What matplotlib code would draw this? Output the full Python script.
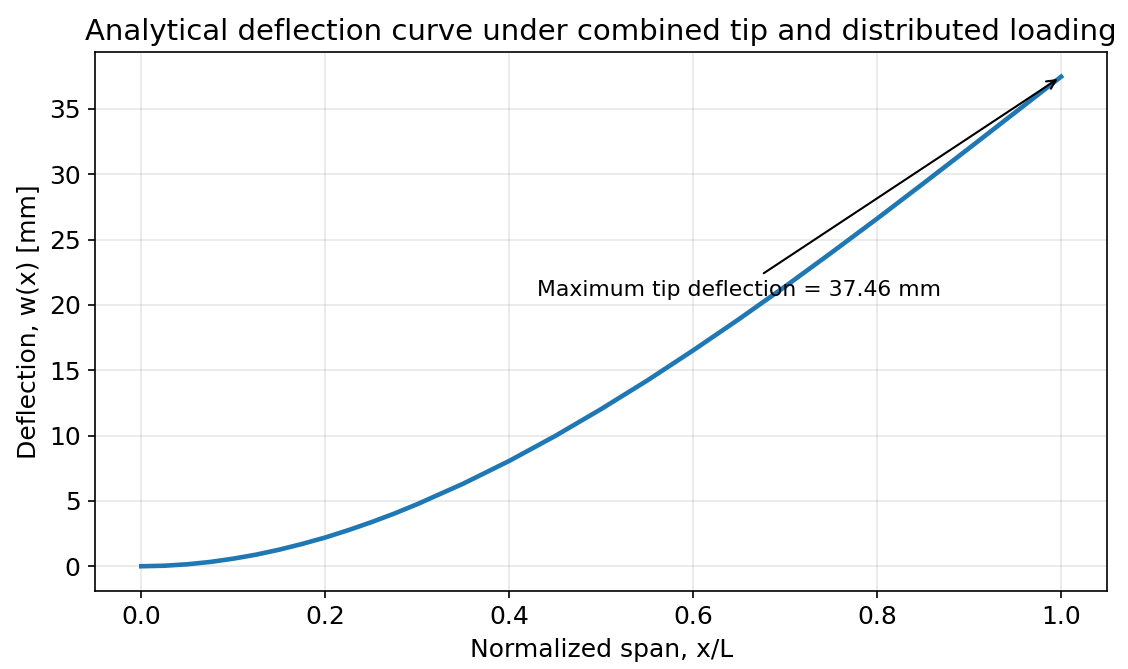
import numpy as np
import matplotlib
matplotlib.use("Agg")
import matplotlib.pyplot as plt

# Valores
x_norm = [0.000, 0.025, 0.050, 0.075, 0.100, 0.125, 0.150, 0.175, 0.200, 0.225,
          0.250, 0.275, 0.30, 0.35, 0.40, 0.45, 0.50, 0.55, 0.60, 0.65, 0.70,
          0.75, 0.80, 0.85, 0.90, 0.95, 1.00]
deflexion = [0.00, 0.04, 0.15, 0.33, 0.58, 0.89, 1.27, 1.71, 2.20, 2.76,
             3.37, 4.03, 4.75, 6.32, 8.06, 9.97, 12.03, 14.21, 16.52, 18.92, 21.41,
             23.98, 26.60, 29.28, 31.99, 34.72, 37.46]
w_max = 37.46

plt.rcParams["font.size"] = 12

fig = plt.figure(figsize=(7.52, 4.46), dpi=150)
ax = fig.add_axes([0.0845, 0.117, 0.897, 0.805])

ax.plot(x_norm, deflexion, color="#1f77b4", lw=2.2, solid_joinstyle="round")
ax.annotate(f"Maximum tip deflection = {w_max:.2f} mm",
            xy=(1.0, w_max), xytext=(0.43, 20.7),
            arrowprops=dict(arrowstyle="->", color="black", lw=1.0),
            fontsize=10.5)

ax.grid(True, alpha=0.3)
ax.set_xlabel("Normalized span, x/L")
ax.set_ylabel("Deflection, w(x) [mm]")
ax.set_title("Analytical deflection curve under combined tip and distributed loading",
             fontsize=14)

fig.savefig("out.png", dpi=150)
